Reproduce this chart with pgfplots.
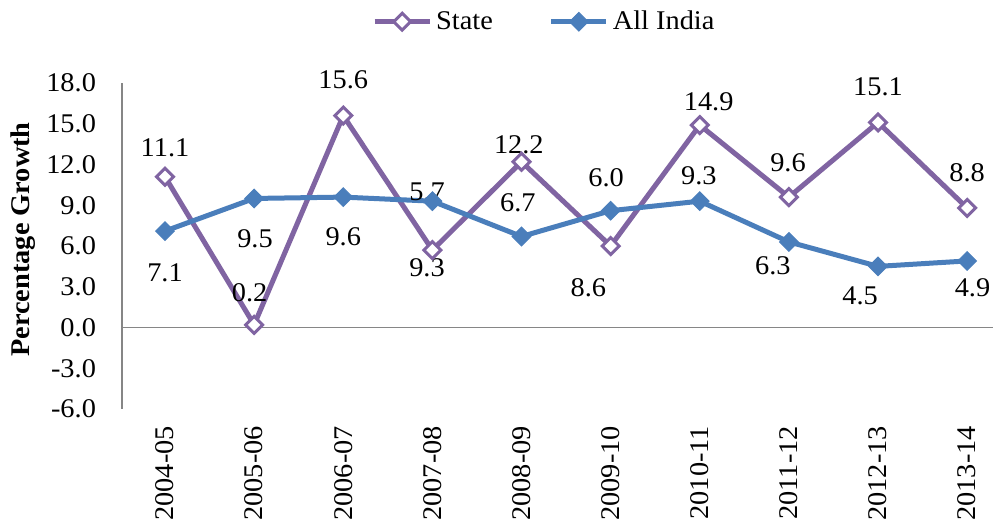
\documentclass[border=0pt]{standalone}
\usepackage{fontspec}
\setmainfont{Liberation Serif}[FakeStretch=1.05]
\usepackage{pgfplots}
\pgfplotsset{compat=1.18}
\definecolor{statecol}{HTML}{8064A2}
\definecolor{indiacol}{HTML}{4A7EBB}
\definecolor{axisgray}{HTML}{868686}
\tikzset{lbl/.style={font=\fontsize{13.5}{16}\selectfont, inner sep=0pt, anchor=center}}

\begin{document}
\begin{tikzpicture}
\useasboundingbox (-61pt,-58pt) rectangle (435.5pt,204.5pt);
\begin{axis}[
  scale only axis,
  width=435.5pt, height=163pt,
  xmin=-0.4826, xmax=9.29,
  ymin=-6, ymax=18,
  clip=false,
  xtick={0,...,9},
  xticklabels={2004-05,2005-06,2006-07,2007-08,2008-09,2009-10,2010-11,2011-12,2012-13,2013-14},
  ytick={-6,-3,0,3,6,9,12,15,18},
  yticklabels={-6.0,-3.0,0.0,3.0,6.0,9.0,12.0,15.0,18.0},
  axis y line*=left, axis x line*=bottom,
  x axis line style={draw=none},
  y axis line style={axisgray, line width=0.75pt, -},
  major tick length=0pt,
  extra y ticks={0}, extra y tick labels={},
  extra y tick style={grid=major, major grid style={axisgray, line width=0.75pt}},
  tick label style={font=\fontsize{13.5}{16}\selectfont},
  xticklabel style={rotate=90, anchor=east},
  xticklabel shift=5pt,
  yticklabel shift=9.5pt,
  ylabel={Percentage Growth},
  every axis y label/.style={at={(axis description cs:-0.1137,0.52)}, rotate=90, anchor=center,
    font=\bfseries\fontsize{13.5}{16}\selectfont},
  legend columns=2,
  legend style={at={(axis description cs:0.486,1.188)}, anchor=center, draw=none,
    font=\fontsize{13.5}{16}\selectfont,
    /tikz/every even column/.append style={column sep=26pt}},
  legend image code/.code={\draw[mark repeat=2,mark phase=2,#1]
    plot coordinates {(0pt,0pt) (13.75pt,0pt) (27.5pt,0pt)};},
]
\addplot[statecol, line width=2.5pt, mark=square*, mark size=3pt,
  mark options={rotate=45, fill=white, draw=statecol, line width=1.5pt}]
  coordinates {(0,11.1) (1,0.2) (2,15.6) (3,5.7) (4,12.2) (5,6.0) (6,14.9) (7,9.6) (8,15.1) (9,8.8)};
\addlegendentry{State}
\addplot[indiacol, line width=2.5pt, mark=square*, mark size=3.3pt,
  mark options={rotate=45, fill=indiacol, draw=indiacol, line width=0.5pt}]
  coordinates {(0,7.1) (1,9.5) (2,9.6) (3,9.3) (4,6.7) (5,8.6) (6,9.3) (7,6.3) (8,4.5) (9,4.9)};
\addlegendentry{All India}

\node[lbl] at (axis cs:0,13.22) {11.1};
\node[lbl] at (axis cs:0,4.06) {7.1};
\node[lbl] at (axis cs:0.95,2.58) {0.2};
\node[lbl] at (axis cs:1.01,6.57) {9.5};
\node[lbl] at (axis cs:2,18.24) {15.6};
\node[lbl] at (axis cs:2,6.65) {9.6};
\node[lbl] at (axis cs:2.94,9.97) {5.7};
\node[lbl] at (axis cs:2.94,4.43) {9.3};
\node[lbl] at (axis cs:3.97,13.44) {12.2};
\node[lbl] at (axis cs:3.96,9.16) {6.7};
\node[lbl] at (axis cs:4.95,11.0) {6.0};
\node[lbl] at (axis cs:4.75,2.95) {8.6};
\node[lbl] at (axis cs:6.1,16.6) {14.9};
\node[lbl] at (axis cs:5.99,11.2) {9.3};
\node[lbl] at (axis cs:6.99,12.1) {9.6};
\node[lbl] at (axis cs:6.82,4.58) {6.3};
\node[lbl] at (axis cs:8,17.7) {15.1};
\node[lbl] at (axis cs:7.8,2.36) {4.5};
\node[lbl] at (axis cs:9,11.37) {8.8};
\node[lbl] at (axis cs:9.06,2.95) {4.9};
\end{axis}
\end{tikzpicture}
\end{document}
